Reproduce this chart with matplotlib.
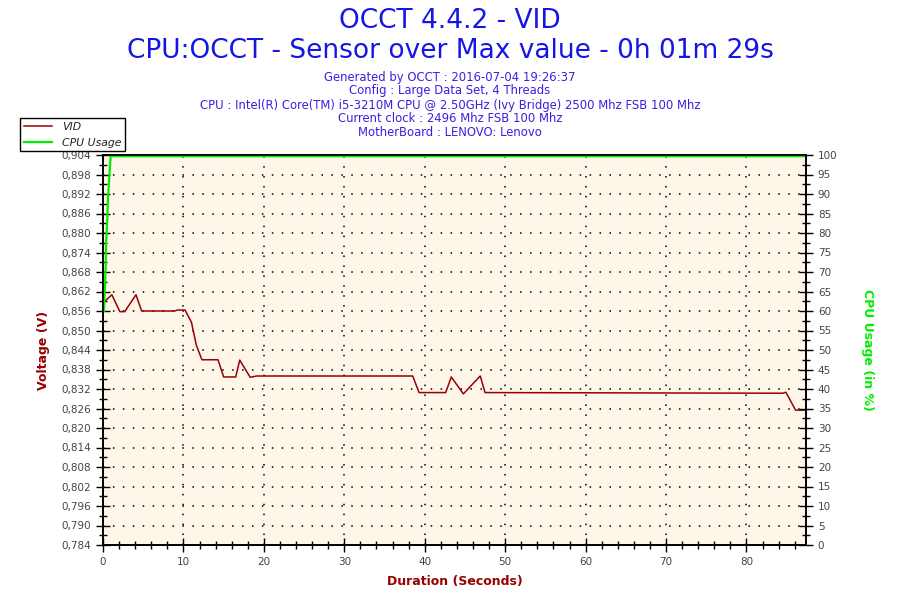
import numpy as np
import matplotlib.pyplot as plt
from matplotlib.ticker import MultipleLocator, FixedLocator, FuncFormatter

# VID samples (seconds, volts)
vid_time = [0.0, 1.1, 2.1, 2.7, 4.1, 4.8, 8.9, 9.3, 10.2, 11.0, 11.6, 12.3,
            14.3, 15.0, 16.5, 17.0, 18.3, 19.1, 38.5, 39.3, 42.6, 43.3,
            44.8, 46.9, 47.5, 84.5, 84.9, 86.1, 87.4]
vid_volts = [0.8585, 0.8610, 0.8558, 0.8558, 0.8610, 0.8560, 0.8560, 0.8563,
             0.8563, 0.8525, 0.8455, 0.8410, 0.8410, 0.8357, 0.8357, 0.8409,
             0.8356, 0.8360, 0.8360, 0.8309, 0.8309, 0.8357, 0.8305, 0.8360,
             0.8309, 0.8307, 0.8310, 0.8255, 0.8255]

# CPU usage samples (seconds, percent)
cpu_time = [0.12, 0.33, 0.40, 0.54, 0.62, 0.83, 0.96, 87.4]
cpu_usage = [60, 71, 78, 84, 89, 96, 99.7, 99.7]

x_max = 87.4
v_min, v_max = 0.784, 0.904

title_lines = ["OCCT 4.4.2 - VID",
               "CPU:OCCT - Sensor over Max value - 0h 01m 29s"]
info_lines = ["Generated by OCCT : 2016-07-04 19:26:37",
              "Config : Large Data Set, 4 Threads",
              "CPU : Intel(R) Core(TM) i5-3210M CPU @ 2.50GHz (Ivy Bridge) 2500 Mhz FSB 100 Mhz",
              "Current clock : 2496 Mhz FSB 100 Mhz",
              "MotherBoard : LENOVO: Lenovo"]

red = '#990000'
green = '#00EE00'
tick_grey = '#444444'

plt.rcParams['font.family'] = ['DejaVu Sans']

fig = plt.figure(figsize=(9, 6), dpi=100)
ax = fig.add_axes([103 / 900, 1 - 545 / 600, 703 / 900, 390 / 600])
ax.set_facecolor('#FDF6E9')
ax2 = ax.twinx()

vid_line, = ax.plot(vid_time, vid_volts, color=red, lw=1.1, zorder=3)
cpu_line, = ax2.plot(cpu_time, cpu_usage, color=green, lw=1.6, zorder=2)

ax.set_xlim(0, x_max)
ax.set_ylim(v_min, v_max)
ax2.set_ylim(0, 100)

ax.xaxis.set_major_locator(MultipleLocator(10))
ax.xaxis.set_minor_locator(MultipleLocator(2))
ax.yaxis.set_major_locator(FixedLocator(np.linspace(v_min, v_max, 21)))
ax.yaxis.set_minor_locator(FixedLocator(np.linspace(v_min, v_max, 41)))
ax2.yaxis.set_major_locator(MultipleLocator(5))
ax2.yaxis.set_minor_locator(MultipleLocator(2.5))

ax.yaxis.set_major_formatter(FuncFormatter(lambda v, p: f"{v:.3f}".replace('.', ',')))

for a in (ax, ax2):
    a.tick_params(which='major', direction='inout', length=10, width=1,
                  labelsize=7.5, labelcolor=tick_grey)
    a.tick_params(which='minor', direction='inout', length=6, width=1)
    for s in a.spines.values():
        s.set_linewidth(1.2)

ax.grid(True, which='major', color='black', linestyle=(0, (1, 5.5)), lw=1.1)
ax.set_axisbelow(True)

ax.set_ylabel("Voltage (V)", color=red, fontweight='bold', fontsize=9, labelpad=8)
ax2.set_ylabel("CPU Usage (in %)", color=green, fontweight='bold', fontsize=9,
               rotation=-90, labelpad=26)
ax.set_xlabel("Duration (Seconds)", color=red, fontweight='bold', fontsize=9, labelpad=6)

# titles
fig.text(0.5, 1 - 21 / 600, title_lines[0], ha='center', va='center',
         fontsize=19, color='#1515E6')
fig.text(0.5, 1 - 51 / 600, title_lines[1], ha='center', va='center',
         fontsize=19, color='#1515E6')
for i, line in enumerate(info_lines):
    fig.text(0.5, 1 - (77 + i * 14) / 600, line, ha='center', va='center',
             fontsize=8.4, color='#3A20E0')

leg = fig.legend([vid_line, cpu_line], ["VID", "CPU Usage"],
                 loc='upper left', bbox_to_anchor=(15 / 900, 1 - 113 / 600),
                 fancybox=False, edgecolor='black', framealpha=1,
                 prop={'style': 'italic', 'size': 7.8}, handlelength=2.6,
                 borderpad=0.35, labelspacing=0.5, handletextpad=0.9)
leg.get_frame().set_linewidth(1)
leg.set_zorder(10)
for t in leg.get_texts():
    t.set_color('#222222')

fig.savefig("out.png", dpi=100)
